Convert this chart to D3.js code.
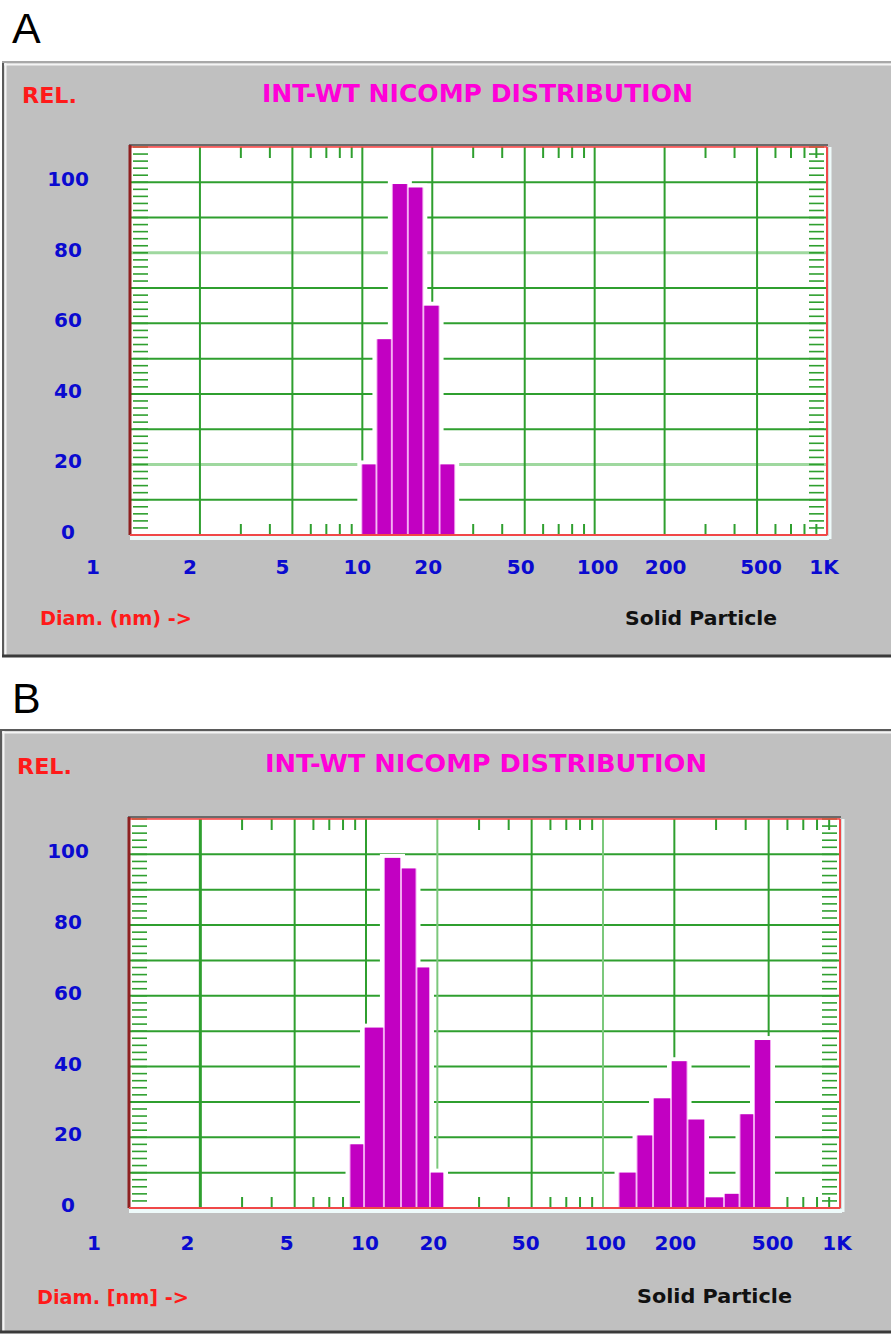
<!DOCTYPE html>
<html lang="en">
<head>
<meta charset="UTF-8">
<script src="https://d3js.org/d3.v7.min.js"></script>
<title>INT-WT NICOMP DISTRIBUTION</title>
<style>
  body { margin: 0; background: #fff; }
  text { font-family: "DejaVu Sans", sans-serif; font-weight: bold; }
  .letter { font-family: "Liberation Sans", Arial, sans-serif; font-weight: normal; }
</style>
</head>
<body>
<svg id="chart" width="891" height="1334"></svg>
<script>
// axis values
const xTickVals = [1, 2, 5, 10, 20, 50, 100, 200, 500, 1000];
const xTickText = ["1", "2", "5", "10", "20", "50", "100", "200", "500", "1K"];
const yTickVals = [0, 20, 40, 60, 80, 100];
const gridXVals = [2, 5, 10, 20, 50, 100, 200, 500];
const gridYVals = [10, 20, 30, 40, 50, 60, 70, 80, 90, 100];
const minorXVals = [3, 4, 6, 7, 8, 9, 30, 40, 60, 70, 80, 90, 300, 400, 600, 700, 800, 900];
const minorYVals = d3.range(0, 111, 2);

// panel A: bins (nm) and relative intensity
const diamLoA = [9.9, 11.5, 13.4, 15.7, 18.3, 21.5];
const diamHiA = [11.5, 13.4, 15.7, 18.3, 21.5, 25.1];
const relA    = [20, 55.5, 99.5, 98.5, 65, 20];

// panel B: bins (nm) and relative intensity
const diamLoB = [8.52, 9.81, 11.9, 14.05, 16.33, 18.62, 116.3, 138.5, 162.6, 193.6, 227.3, 269.4, 323.9, 376.6, 433.6];
const diamHiB = [9.81, 11.9, 14.05, 16.33, 18.62, 21.34, 138.5, 162.6, 193.6, 227.3, 269.4, 323.9, 376.6, 433.6, 511.5];
const relB    = [18, 51, 99, 96, 68, 10, 10, 20.5, 31, 41.5, 25, 3, 4, 26.5, 47.5];

const svg = d3.select("#chart");

const panels = [
  {
    letter: "A", letterY: 43,
    box: {x: 4, y: 63, w: 887, h: 593},
    plot: {left: 130, right: 827, top: 147, bottom: 535},
    title: "INT-WT NICOMP DISTRIBUTION", titleX: 262, titleY: 102, titleW: 431,
    relX: 22, relY: 103,
    xLabelY: 574, labelNudge: [-37, -10, -10, -5, -4, -4, 3, 1, 4, -3],
    diam: "Diam. (nm) ->", diamX: 40, diamY: 625, diamW: 152,
    solidX: 625, solidY: 625, solidW: 152,
    paleY: [20, 80], paleX: [], thickX: [],
    lo: diamLoA, hi: diamHiA, rel: relA
  },
  {
    letter: "B", letterY: 713,
    box: {x: 2, y: 731, w: 889, h: 601},
    plot: {left: 129, right: 840, top: 819, bottom: 1208},
    title: "INT-WT NICOMP DISTRIBUTION", titleX: 265, titleY: 772, titleW: 442,
    relX: 17, relY: 774,
    xLabelY: 1250, labelNudge: [-35, -13, -8, -1, -4, -6, 2, 1, 4, -3],
    diam: "Diam. [nm] ->", diamX: 37, diamY: 1304, diamW: 152,
    solidX: 637, solidY: 1303, solidW: 155,
    paleY: [], paleX: [20, 100], thickX: [2],
    lo: diamLoB, hi: diamHiB, rel: relB
  }
];

const green = "#2f9f2f";
const paleGreen = "#9fd89f";

panels.forEach(p => {
  const g = svg.append("g");
  const x = d3.scaleLog().domain([1, 1000]).range([p.plot.left, p.plot.right]);
  const y = d3.scaleLinear().domain([0, 110]).range([p.plot.bottom, p.plot.top]);

  g.append("text").attr("class", "letter")
    .attr("x", 12).attr("y", p.letterY)
    .attr("font-size", 43).attr("fill", "#000").text(p.letter);

  // window frame
  g.append("rect")
    .attr("x", p.box.x).attr("y", p.box.y)
    .attr("width", p.box.w).attr("height", p.box.h)
    .attr("fill", "#c0c0c0");
  g.append("line").attr("x1", p.box.x - 1).attr("x2", p.box.x - 1)
    .attr("y1", p.box.y - 2).attr("y2", p.box.y + p.box.h + 1)
    .attr("stroke", "#5a5a5a").attr("stroke-width", 2);
  g.append("line").attr("x1", p.box.x - 2).attr("x2", 891)
    .attr("y1", p.box.y - 1).attr("y2", p.box.y - 1)
    .attr("stroke", p.letter === "B" ? "#5a5a5a" : "#a8a8a8").attr("stroke-width", 2);
  g.append("line").attr("x1", p.box.x).attr("x2", 891)
    .attr("y1", p.box.y + 1.5).attr("y2", p.box.y + 1.5)
    .attr("stroke", "#f4f4f4").attr("stroke-width", 2);
  g.append("line").attr("x1", p.box.x + 1.5).attr("x2", p.box.x + 1.5)
    .attr("y1", p.box.y).attr("y2", p.box.y + p.box.h)
    .attr("stroke", "#f4f4f4").attr("stroke-width", 2);
  g.append("line").attr("x1", p.box.x - 2).attr("x2", 891)
    .attr("y1", p.box.y + p.box.h).attr("y2", p.box.y + p.box.h)
    .attr("stroke", "#3a3a3a").attr("stroke-width", 3);

  // texts
  g.append("text").attr("x", p.relX).attr("y", p.relY)
    .attr("font-size", 21).attr("fill", "#ff1a1a")
    .attr("textLength", 55).attr("lengthAdjust", "spacingAndGlyphs").text("REL.");
  g.append("text").attr("x", p.titleX).attr("y", p.titleY)
    .attr("font-size", 25).attr("fill", "#ff00d8")
    .attr("textLength", p.titleW).attr("lengthAdjust", "spacingAndGlyphs").text(p.title);
  g.append("text").attr("x", p.diamX).attr("y", p.diamY)
    .attr("font-size", 20).attr("fill", "#ff1a1a")
    .attr("textLength", p.diamW).attr("lengthAdjust", "spacingAndGlyphs").text(p.diam);
  g.append("text").attr("x", p.solidX).attr("y", p.solidY)
    .attr("font-size", 20).attr("fill", "#111")
    .attr("textLength", p.solidW).attr("lengthAdjust", "spacingAndGlyphs").text("Solid Particle");

  // plot background
  g.append("rect")
    .attr("x", p.plot.left).attr("y", p.plot.top)
    .attr("width", p.plot.right - p.plot.left).attr("height", p.plot.bottom - p.plot.top)
    .attr("fill", "#fff");

  // grid
  g.selectAll(".gy").data(gridYVals).join("line")
    .attr("x1", p.plot.left).attr("x2", p.plot.right)
    .attr("y1", d => y(d)).attr("y2", d => y(d))
    .attr("stroke", d => p.paleY.includes(d) ? paleGreen : green)
    .attr("stroke-width", d => p.paleY.includes(d) ? 3 : 2);
  g.selectAll(".gx").data(gridXVals).join("line")
    .attr("x1", d => x(d)).attr("x2", d => x(d))
    .attr("y1", p.plot.top).attr("y2", p.plot.bottom)
    .attr("stroke", d => p.paleX.includes(d) ? "#7cc87c" : green)
    .attr("stroke-width", d => p.thickX.includes(d) ? 3 : 2);

  // minor ticks
  const tl = 11;
  minorXVals.forEach(v => {
    g.append("line").attr("x1", x(v)).attr("x2", x(v))
      .attr("y1", p.plot.top).attr("y2", p.plot.top + tl)
      .attr("stroke", green).attr("stroke-width", 2);
    g.append("line").attr("x1", x(v)).attr("x2", x(v))
      .attr("y1", p.plot.bottom - tl).attr("y2", p.plot.bottom)
      .attr("stroke", green).attr("stroke-width", 2);
  });
  g.selectAll(".my").data(minorYVals).join("line")
    .attr("x1", p.plot.left + 3).attr("x2", p.plot.left + 18)
    .attr("y1", d => y(d)).attr("y2", d => y(d))
    .attr("stroke", green).attr("stroke-width", 1.6);
  g.selectAll(".my2").data(minorYVals).join("line")
    .attr("x1", p.plot.right - 18).attr("x2", p.plot.right - 3)
    .attr("y1", d => y(d)).attr("y2", d => y(d))
    .attr("stroke", green).attr("stroke-width", 1.6);

  // bars
  const bars = p.rel.map((r, i) => ({lo: p.lo[i], hi: p.hi[i], rel: r}));
  g.selectAll(".halo").data(bars).join("rect")
    .attr("x", d => x(d.lo) - 4).attr("y", d => y(d.rel) - 4)
    .attr("width", d => x(d.hi) - x(d.lo) + 8)
    .attr("height", d => p.plot.bottom - y(d.rel) + 4)
    .attr("fill", "#fff");
  g.selectAll(".under").data(bars).join("rect")
    .attr("x", d => x(d.lo)).attr("y", d => y(d.rel))
    .attr("width", d => x(d.hi) - x(d.lo))
    .attr("height", d => p.plot.bottom - y(d.rel))
    .attr("fill", "#f2a6f0");
  g.selectAll(".bar").data(bars).join("rect")
    .attr("x", d => x(d.lo) + 1).attr("y", d => y(d.rel))
    .attr("width", d => x(d.hi) - x(d.lo) - 2)
    .attr("height", d => p.plot.bottom - y(d.rel))
    .attr("fill", "#c200c2");

  // plot frame
  g.append("line").attr("x1", p.plot.left - 1).attr("x2", p.plot.right + 1)
    .attr("y1", p.plot.top - 2).attr("y2", p.plot.top - 2)
    .attr("stroke", "#6a6a6a").attr("stroke-width", 2);
  g.append("line").attr("x1", p.plot.left).attr("x2", p.plot.right)
    .attr("y1", p.plot.top).attr("y2", p.plot.top)
    .attr("stroke", "#ff4040").attr("stroke-width", 1.5);
  g.append("line").attr("x1", p.plot.left).attr("x2", p.plot.left)
    .attr("y1", p.plot.top - 2).attr("y2", p.plot.bottom)
    .attr("stroke", "#8e2020").attr("stroke-width", 3);
  g.append("line").attr("x1", p.plot.left).attr("x2", p.plot.right + 2)
    .attr("y1", p.plot.bottom + 3).attr("y2", p.plot.bottom + 3)
    .attr("stroke", "#eefafa").attr("stroke-width", 4);
  g.append("line").attr("x1", p.plot.right + 3).attr("x2", p.plot.right + 3)
    .attr("y1", p.plot.top).attr("y2", p.plot.bottom + 4)
    .attr("stroke", "#eefafa").attr("stroke-width", 3);
  g.append("line").attr("x1", p.plot.left).attr("x2", p.plot.right)
    .attr("y1", p.plot.bottom).attr("y2", p.plot.bottom)
    .attr("stroke", "#f04848").attr("stroke-width", 2);
  g.append("line").attr("x1", p.plot.right).attr("x2", p.plot.right)
    .attr("y1", p.plot.top).attr("y2", p.plot.bottom)
    .attr("stroke", "#f04848").attr("stroke-width", 2);

  // tick labels
  g.selectAll(".xl").data(xTickVals).join("text")
    .attr("x", (d, i) => x(d) + p.labelNudge[i])
    .attr("y", p.xLabelY)
    .attr("text-anchor", "middle")
    .attr("font-size", 20).attr("fill", "#0a0ad0")
    .text((d, i) => xTickText[i]);
  g.selectAll(".yl").data(yTickVals).join("text")
    .attr("x", 68).attr("y", d => y(d) + 4)
    .attr("text-anchor", "middle")
    .attr("font-size", 20).attr("fill", "#0a0ad0")
    .text(d => d);
});
</script>
</body>
</html>
